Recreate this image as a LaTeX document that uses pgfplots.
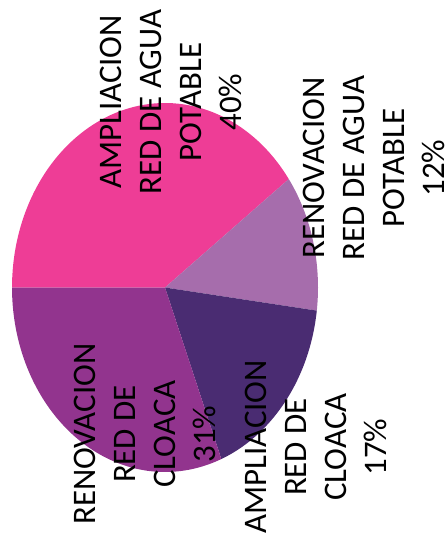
\documentclass[border=0pt]{standalone}
\usepackage{pgfplots}
\pgfplotsset{compat=1.18}
\usepackage{fontspec}
\setmainfont{Carlito}

\definecolor{cPink}{HTML}{EE3D96}
\definecolor{cMauve}{HTML}{A66DAC}
\definecolor{cDark}{HTML}{4A2C72}
\definecolor{cPurple}{HTML}{92348E}

% shares in percent, clockwise from the left
\def\pA{40}\def\pB{12}\def\pC{17}\def\pD{31}
\pgfmathsetmacro\aA{180}
\pgfmathsetmacro\aB{\aA-3.6*\pA}
\pgfmathsetmacro\aC{\aB-3.6*\pB}
\pgfmathsetmacro\aD{\aC-3.6*\pC}
\pgfmathsetmacro\aE{\aD-3.6*\pD}

\def\cx{165}\def\cy{287.5}\def\rx{153}\def\ry{184.5}
\newcommand{\sector}[3]{%
  \fill[#1] (axis cs:\cx,\cy) -- plot[domain=#2:#3, samples=80, variable=\t]
    ({\cx+\rx*cos(\t)},{\cy-\ry*sin(\t)}) -- cycle;}

\tikzset{lbl/.style={font=\fontsize{33}{40}\selectfont, rotate=90, align=center, inner sep=0pt}}

\begin{document}
\begin{tikzpicture}
  \begin{axis}[
    name=ax,
    scale only axis,
    width=448bp, height=541bp,
    xmin=0, xmax=448, ymin=0, ymax=541,
    y dir=reverse,
    hide axis,
    clip=false,
    ]
    \sector{cPink}{\aA}{\aB}
    \sector{cMauve}{\aB}{\aC}
    \sector{cDark}{\aC}{\aD}
    \sector{cPurple}{\aD}{\aE}

    \node[lbl] at (axis cs:171,102) {AMPLIACION\\RED DE AGUA\\POTABLE\\40\%};
    \node[lbl] at (axis cs:374,168) {RENOVACION\\RED DE AGUA\\POTABLE\\12\%};
    \node[lbl] at (axis cs:316,447) {AMPLIACION\\RED DE\\CLOACA\\17\%};
    \node[lbl] at (axis cs:145,434) {RENOVACION\\RED DE\\CLOACA\\31\%};
  \end{axis}
  \pgfresetboundingbox
  \path (ax.south west) rectangle (ax.north east);
\end{tikzpicture}
\end{document}
